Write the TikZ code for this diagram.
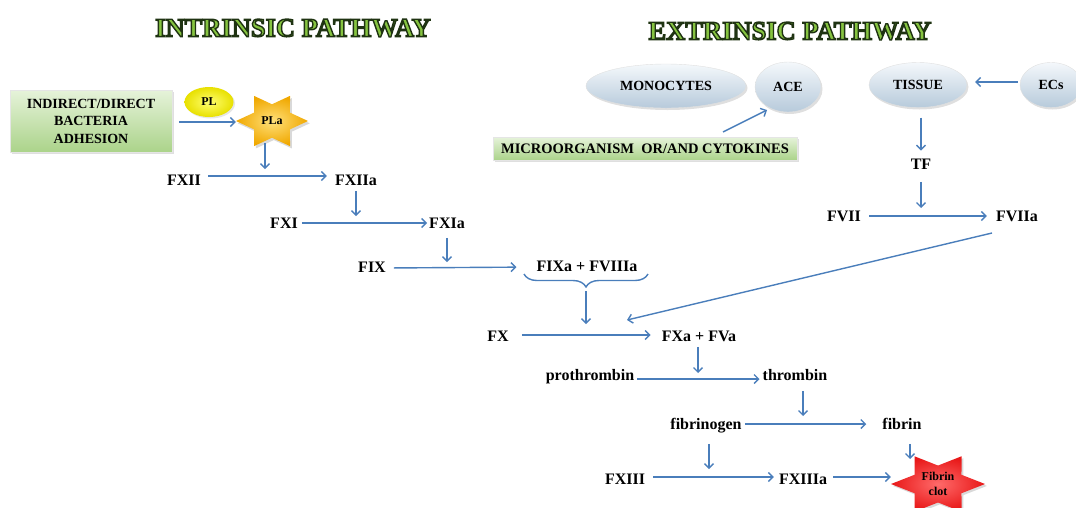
\documentclass[tikz,border=0pt]{standalone}
\usepackage{fontspec}
\setmainfont{Liberation Serif}
\usetikzlibrary{shapes.geometric,shadows,decorations.pathreplacing,arrows.meta}
\definecolor{arrc}{HTML}{4A7EBB}
\definecolor{ttlfill}{HTML}{86C440}
\definecolor{ttlout}{HTML}{1F3312}
\definecolor{boxtop}{HTML}{E6F3DA}
\definecolor{boxbot}{HTML}{ABD38A}
\definecolor{elltop}{HTML}{F4F8FB}
\definecolor{ellbot}{HTML}{B7CADB}
\definecolor{plin}{HTML}{FFFF70}
\definecolor{plout}{HTML}{E8E000}
\definecolor{goldin}{HTML}{FFE07A}
\definecolor{goldout}{HTML}{F0A800}
\definecolor{redin}{HTML}{FF6A6A}
\definecolor{redout}{HTML}{E81818}
\newcommand{\pathtitle}[1]{%
  \textcolor{ttlfill}{\special{pdf:literal direct 0.12 0.2 0.07 RG 1.4 w 2 Tr}#1\special{pdf:literal direct 0 Tr}}}
\begin{document}
\begin{tikzpicture}[x=1pt,y=-1pt,
  lbl/.style={inner sep=0pt, text height=11pt, text depth=3.5pt, font=\bfseries\fontsize{16}{19}\selectfont},
  arr/.style={draw=arrc, line width=1.4pt, -{Straight Barb[length=4.5pt,width=9pt]}},
  cell/.style={ellipse, inner sep=0pt, top color=elltop, bottom color=ellbot, draw=black!12, line width=0.4pt,
    drop shadow={shadow xshift=1.5pt, shadow yshift=-2pt, opacity=0.25}, font=\bfseries\fontsize{14}{16}\selectfont},
  gbox/.style={rectangle, inner sep=0pt, top color=boxtop, bottom color=boxbot, draw=black!10, line width=0.4pt,
    drop shadow={shadow xshift=2pt, shadow yshift=-2pt, opacity=0.25}, align=center},
  ttl/.style={inner sep=0pt, font=\bfseries\fontsize{26.5}{30}\selectfont},
  starlbl/.style={inner sep=0pt, align=center, font=\bfseries\fontsize{12}{15}\selectfont}
]
\useasboundingbox (0,0) rectangle (1076,507);

% titles
\node[ttl] (tin) at (293,28) {\pathtitle{INTRINSIC PATHWAY}};
\node[ttl] (tex) at (790,31) {\pathtitle{EXTRINSIC PATHWAY}};

% intrinsic top
\node[gbox, minimum width=162pt, minimum height=62pt, font=\bfseries\fontsize{14}{17.5}\selectfont] (bact) at (91,121) {INDIRECT/DIRECT\\BACTERIA\\ADHESION};
\node[ellipse, inner sep=0pt, minimum width=49pt, minimum height=30pt, inner color=plin, outer color=plout,
  drop shadow={shadow xshift=1.5pt, shadow yshift=-1.5pt, opacity=0.2}, font=\bfseries\fontsize{12}{14}\selectfont] (PL) at (209,102) {PL};
\begin{scope}[shift={(272,121)}, xscale=36, yscale=29]
  \fill[black, opacity=0.15, shift={(0.05,0.08)}] (0:1) -- (30:0.577) -- (60:1) -- (90:0.577) -- (120:1) -- (150:0.577) -- (180:1) -- (210:0.577) -- (240:1) -- (270:0.577) -- (300:1) -- (330:0.577) -- cycle;
  \shade[inner color=goldin, outer color=goldout] (0:1) -- (30:0.577) -- (60:1) -- (90:0.577) -- (120:1) -- (150:0.577) -- (180:1) -- (210:0.577) -- (240:1) -- (270:0.577) -- (300:1) -- (330:0.577) -- cycle;
\end{scope}
\node[starlbl, minimum width=72pt, minimum height=44pt] (PLa) at (272,121) {PLa};

% intrinsic cascade
\node[lbl] (FXII) at (184,182) {FXII};
\node[lbl] (FXIIa) at (356,182) {FXIIa};
\node[lbl] (FXI) at (284,225) {FXI};
\node[lbl] (FXIa) at (447,225) {FXIa};
\node[lbl] (FIX) at (372,269) {FIX};
\node[lbl] (FIXa) at (587,268) {FIXa + FVIIIa};
\node[lbl] (FX) at (498,338) {FX};
\node[lbl] (FXa) at (699,338) {FXa + FVa};
\node[lbl] (proth) at (590,377) {prothrombin};
\node[lbl] (thromb) at (795,377) {thrombin};
\node[lbl] (fibgen) at (706,426) {fibrinogen};
\node[lbl] (fibrin) at (902,426) {fibrin};
\node[lbl] (FXIII) at (625,481) {FXIII};
\node[lbl] (FXIIIa) at (803,481) {FXIIIa};

% red star
\begin{scope}[shift={(938,484)}, xscale=47, yscale=32]
  \fill[black, opacity=0.15, shift={(0.04,0.06)}] (0:1) -- (30:0.577) -- (60:1) -- (90:0.577) -- (120:1) -- (150:0.577) -- (180:1) -- (210:0.577) -- (240:1) -- (270:0.577) -- (300:1) -- (330:0.577) -- cycle;
  \shade[inner color=redin, outer color=redout] (0:1) -- (30:0.577) -- (60:1) -- (90:0.577) -- (120:1) -- (150:0.577) -- (180:1) -- (210:0.577) -- (240:1) -- (270:0.577) -- (300:1) -- (330:0.577) -- cycle;
\end{scope}
\node[starlbl, minimum width=94pt, minimum height=50pt] (clot) at (938,484) {Fibrin\\clot};

% extrinsic
\node[cell, minimum width=160pt, minimum height=44pt] (mono) at (666,86) {MONOCYTES};
\node[cell, minimum width=66pt, minimum height=50pt] (ACE) at (788,87) {ACE};
\node[cell, minimum width=98pt, minimum height=45pt] (TISSUE) at (918,85) {TISSUE};
\node[cell, minimum width=62pt, minimum height=45pt] (ECs) at (1051,85) {ECs};
\node[gbox, minimum width=304pt, minimum height=23pt, font=\bfseries\fontsize{14.5}{17}\selectfont] (micro) at (645,148.5) {MICROORGANISM\ \ OR/AND CYTOKINES};
\node[lbl] (TF) at (921,166) {TF};
\node[lbl] (FVII) at (844,218) {FVII};
\node[lbl] (FVIIa) at (1017,218) {FVIIa};

% coordinates for free ends
\coordinate (v0) at (265,169);
\coordinate (v1) at (356,216);
\coordinate (v2) at (447,262);
\coordinate (v4) at (698,373);
\coordinate (v5) at (803,416);
\coordinate (v6) at (709,469);
\coordinate (v7) at (910,459);
\coordinate (v8) at (921,208);
\coordinate (bl) at (524,274);
\coordinate (br) at (648,274);
\coordinate (bt) at (586,291);
\coordinate (v3) at (586,324);
\coordinate (m0) at (723,132);
\coordinate (m1) at (767,110);
\coordinate (c7s) at (992,233);
\coordinate (c7e) at (627,320);

% brace
\draw[arrc, line width=1.4pt, decorate, decoration={brace, mirror, amplitude=13pt}] (bl) -- (br);

% connectors
\draw[arr, shorten <=7pt] ([yshift=-1pt]bact.east) -- ([yshift=-1pt]PLa.west);
\draw[arr] (PLa.south -| v0) -- (v0);
\draw[arr, shorten <=7pt, shorten >=8pt] ([yshift=6pt]FXII.east) -- ([yshift=6pt]FXIIa.west);
\draw[arr, shorten <=1.5pt] (FXIIa.south -| v1) -- (v1);
\draw[arr, shorten <=4pt, shorten >=2pt] ([yshift=2pt]FXI.east) -- ([yshift=2pt]FXIa.west);
\draw[arr, shorten <=5.5pt] (FXIa.south -| v2) -- (v2);
\draw[arr, shorten <=8pt, shorten >=20pt] ([yshift=1pt]FIX.east) -- ([yshift=1pt]FIXa.west);
\draw[arr] (bt) -- (v3);
\draw[arr] (c7s) -- (c7e);
\draw[arr, shorten <=13pt, shorten >=11pt] ([yshift=3pt]FX.east) -- ([yshift=3pt]FXa.west);
\draw[arr, shorten <=1.5pt] (FXa.south -| v4) -- (v4);
\draw[arr, shorten <=3pt, shorten >=3pt] ([yshift=-2pt]proth.east) -- ([yshift=-2pt]thromb.west);
\draw[arr, shorten <=6.5pt] (thromb.south -| v5) -- (v5);
\draw[arr, shorten <=3pt, shorten >=16pt] ([yshift=2pt]fibgen.east) -- ([yshift=2pt]fibrin.west);
\draw[arr, shorten <=10.5pt] (fibgen.south -| v6) -- (v6);
\draw[arr, shorten <=10.5pt] (fibrin.south -| v7) -- (v7);
\draw[arr, shorten <=8pt, shorten >=5pt] ([yshift=4pt]FXIII.east) -- ([yshift=4pt]FXIIIa.west);
\draw[arr, shorten <=6pt] ([yshift=4pt]FXIIIa.east) -- ([yshift=7pt]clot.west);

\draw[arr] (m0) -- (m1);
\draw[arr, shorten <=2pt, shorten >=8pt] ([yshift=3pt]ECs.west) -- ([yshift=3pt]TISSUE.east);
\draw[arr, shorten <=10pt, shorten >=8pt] (TISSUE.south -| TF) -- (TF.north);
\draw[arr, shorten <=8.5pt] (TF.south -| v8) -- (v8);
\draw[arr, shorten <=8pt, shorten >=9pt] ([yshift=2pt]FVII.east) -- ([yshift=2pt]FVIIa.west);
\end{tikzpicture}
\end{document}
